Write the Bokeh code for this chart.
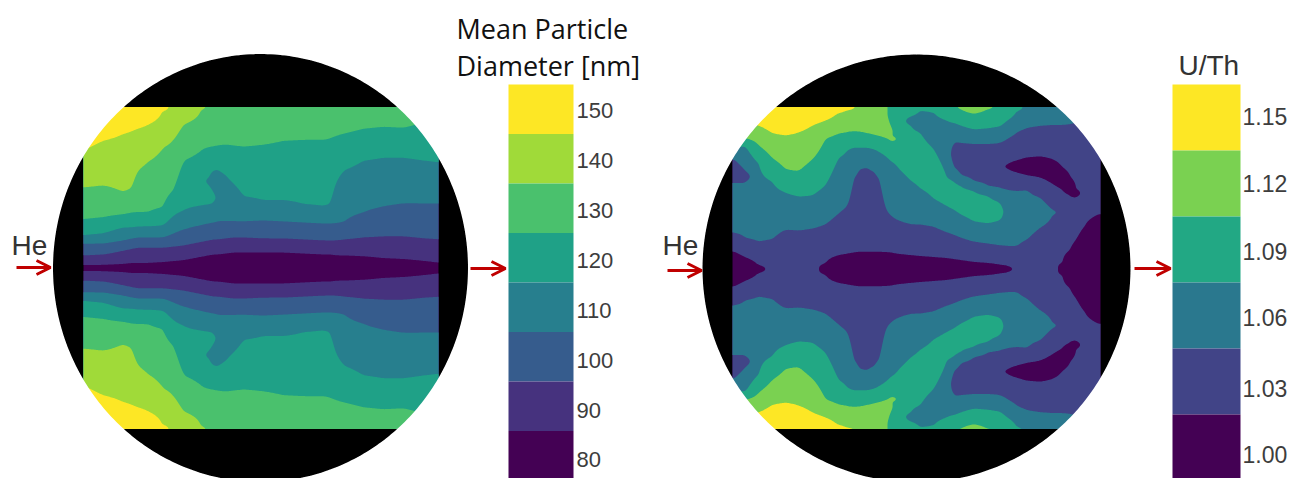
import numpy as np
from bokeh.plotting import figure
from bokeh.models import Range1d, Arrow, OpenHead
from bokeh.core.properties import value
from bokeh.embed import file_html
from bokeh.resources import INLINE

# ---- band values and colours ----
left_values = [150, 140, 130, 120, 110, 100, 90, 80]
left_colors = ["#fde725", "#a0da39", "#4ac16d", "#1fa187", "#277f8e", "#365c8d", "#46327e", "#440154"]
right_values = [1.15, 1.12, 1.09, 1.06, 1.03, 1.00]
right_labels = ["1.15", "1.12", "1.09", "1.06", "1.03", "1.00"]
right_colors = ["#fde725", "#7ad151", "#22a884", "#2a788e", "#414487", "#440154"]
left_label_y = [110, 160, 210, 260, 310, 360, 410, 459]
right_label_y = [116, 183, 251, 317, 388, 454]

# ---- left field: for each column, (band value, y where the band ends), top half, mirrored ----
left_columns = {
    83: [(150, 150), (140, 187), (130, 219), (120, 235), (110, 243), (100, 255), (90, 265), (80, 268)],
    103: [(150, 140), (140, 185), (130, 217), (120, 233), (110, 243), (100, 254), (90, 265), (80, 268)],
    123: [(150, 133), (140, 192), (130, 214), (120, 227), (110, 240), (100, 250), (90, 264), (80, 268)],
    132: [(150, 130), (140, 188), (130, 212), (120, 227), (110, 238), (100, 248), (90, 263), (80, 268)],
    137: [(150, 128), (140, 170), (130, 212), (120, 226), (110, 237), (100, 247), (90, 263), (80, 268)],
    148: [(150, 124), (140, 161), (130, 212), (120, 226), (110, 237), (100, 247), (90, 263), (80, 268)],
    163: [(150, 110), (140, 147), (130, 207), (120, 225), (110, 237), (100, 247), (90, 262), (80, 268)],
    173: [(140, 140), (130, 190), (120, 215), (110, 233), (100, 246), (90, 261), (80, 268)],
    183: [(140, 124), (130, 160), (120, 210), (110, 229), (100, 245), (90, 260), (80, 268)],
    203: [(140, 108), (130, 148), (120, 205), (110, 224), (100, 241), (90, 256), (80, 268)],
    208: [(130, 147), (120, 177), (110, 184), (120, 204), (110, 223), (100, 240), (90, 255), (80, 268)],
    213: [(130, 146), (120, 169), (110, 192), (120, 203), (110, 222), (100, 239), (90, 254), (80, 268)],
    218: [(130, 145), (120, 169), (110, 221), (100, 239), (90, 254), (80, 268)],
    225: [(130, 144), (120, 174), (110, 221), (100, 238), (90, 253), (80, 268)],
    233: [(130, 145), (120, 183), (110, 221), (100, 237), (90, 252), (80, 268)],
    243: [(130, 146), (120, 196), (110, 221), (100, 237), (90, 252), (80, 268)],
    263: [(130, 144), (120, 200), (110, 220), (100, 238), (90, 252), (80, 268)],
    283: [(130, 140), (120, 200), (110, 221), (100, 238), (90, 252), (80, 268)],
    303: [(130, 139), (120, 204), (110, 222), (100, 239), (90, 253), (80, 268)],
    323: [(130, 139), (120, 206), (110, 223), (100, 240), (90, 254), (80, 268)],
    331: [(130, 137), (120, 204), (110, 223), (100, 240), (90, 254), (80, 268)],
    336: [(130, 135), (120, 180), (110, 223), (100, 240), (90, 255), (80, 268)],
    343: [(130, 133), (120, 170), (110, 222), (100, 239), (90, 255), (80, 268)],
    363: [(130, 128), (120, 160), (110, 212), (100, 237), (90, 256), (80, 268)],
    383: [(130, 126), (120, 157), (110, 206), (100, 236), (90, 258), (80, 268)],
    403: [(130, 127), (120, 157), (110, 203), (100, 236), (90, 259), (80, 268)],
    423: [(130, 120), (120, 160), (110, 203), (100, 238), (90, 261), (80, 268)],
    438: [(130, 112), (120, 162), (110, 203), (100, 239), (90, 263), (80, 268)],
}

# ---- right field: same reading, (band value, y where the band ends) ----
right_columns = {
    732: [(1.15, 117), (1.12, 133), (1.09, 147), (1.06, 157), (1.03, 182), (1.06, 232), (1.03, 250), (1.00, 269)],
    745: [(1.15, 122), (1.12, 138), (1.09, 145), (1.06, 170), (1.03, 182), (1.06, 238), (1.03, 257), (1.00, 269)],
    758: [(1.15, 125), (1.12, 145), (1.09, 163), (1.06, 242), (1.03, 265), (1.00, 269)],
    772: [(1.15, 133), (1.12, 158), (1.09, 181), (1.06, 239), (1.03, 269)],
    785: [(1.15, 135), (1.12, 169), (1.09, 192), (1.06, 229), (1.03, 269)],
    798: [(1.15, 132), (1.12, 171), (1.09, 196), (1.06, 230), (1.03, 269)],
    812: [(1.15, 125), (1.12, 159), (1.09, 195), (1.06, 228), (1.03, 269)],
    825: [(1.15, 120), (1.12, 138), (1.09, 185), (1.06, 224), (1.03, 263), (1.00, 269)],
    838: [(1.15, 112), (1.12, 133), (1.09, 157), (1.06, 213), (1.03, 255), (1.00, 269)],
    846: [(1.15, 109), (1.12, 132), (1.09, 150), (1.06, 207), (1.03, 254), (1.00, 269)],
    849: [(1.15, 108), (1.12, 131), (1.09, 148), (1.06, 203), (1.03, 253), (1.00, 269)],
    852: [(1.15, 108), (1.12, 131), (1.09, 147), (1.06, 178), (1.03, 253), (1.00, 269)],
    858: [(1.12, 131), (1.09, 147), (1.06, 168), (1.03, 252), (1.00, 269)],
    867: [(1.12, 133), (1.09, 147), (1.06, 166), (1.03, 252), (1.00, 269)],
    875: [(1.12, 135), (1.09, 149), (1.06, 171), (1.03, 252), (1.00, 269)],
    880: [(1.12, 136), (1.09, 152), (1.06, 178), (1.03, 252), (1.00, 269)],
    885: [(1.12, 138), (1.09, 155), (1.06, 210), (1.03, 252), (1.00, 269)],
    889: [(1.09, 122), (1.12, 138), (1.09, 158), (1.06, 214), (1.03, 252), (1.00, 269)],
    893: [(1.09, 136), (1.12, 141), (1.09, 162), (1.06, 218), (1.03, 253), (1.00, 269)],
    900: [(1.09, 170), (1.06, 221), (1.03, 254), (1.00, 269)],
    910: [(1.09, 116), (1.06, 125), (1.09, 180), (1.06, 224), (1.03, 255), (1.00, 269)],
    920: [(1.09, 109), (1.06, 132), (1.09, 188), (1.06, 224), (1.03, 256), (1.00, 269)],
    933: [(1.09, 111), (1.06, 148), (1.09, 198), (1.06, 226), (1.03, 257), (1.00, 269)],
    947: [(1.09, 120), (1.06, 177), (1.09, 206), (1.06, 232), (1.03, 258), (1.00, 269)],
    953: [(1.09, 122), (1.06, 141), (1.03, 167), (1.06, 180), (1.09, 209), (1.06, 234), (1.03, 259), (1.00, 269)],
    960: [(1.12, 108), (1.09, 125), (1.06, 142), (1.03, 175), (1.06, 185), (1.09, 214), (1.06, 237), (1.03, 260), (1.00, 269)],
    973: [(1.12, 113), (1.09, 129), (1.06, 143), (1.03, 181), (1.06, 190), (1.09, 221), (1.06, 241), (1.03, 262), (1.00, 269)],
    987: [(1.12, 108), (1.09, 128), (1.06, 143), (1.03, 186), (1.06, 195), (1.09, 223), (1.06, 243), (1.03, 263), (1.00, 269)],
    1000: [(1.09, 126), (1.06, 142), (1.03, 188), (1.06, 202), (1.09, 220), (1.06, 245), (1.03, 265), (1.00, 269)],
    1007: [(1.09, 120), (1.06, 138), (1.03, 164), (1.00, 168), (1.03, 189), (1.06, 246), (1.03, 266), (1.00, 269)],
    1017: [(1.09, 110), (1.06, 131), (1.03, 160), (1.00, 172), (1.03, 190), (1.06, 246), (1.03, 269)],
    1027: [(1.06, 127), (1.03, 157), (1.00, 175), (1.03, 189), (1.06, 239), (1.03, 269)],
    1040: [(1.06, 125), (1.03, 156), (1.00, 177), (1.03, 197), (1.06, 227), (1.03, 269)],
    1053: [(1.06, 124), (1.03, 159), (1.00, 184), (1.03, 210), (1.06, 214), (1.03, 269)],
    1062: [(1.06, 124), (1.03, 167), (1.00, 189), (1.03, 262), (1.00, 269)],
    1070: [(1.06, 123), (1.03, 177), (1.00, 194), (1.03, 250), (1.00, 269)],
    1075: [(1.06, 121), (1.03, 188), (1.00, 197), (1.03, 240), (1.00, 269)],
    1083: [(1.06, 117), (1.03, 226), (1.00, 269)],
    1100: [(1.06, 113), (1.03, 213), (1.00, 269)],
}

TOP, BOTTOM = 106.5, 428.5
MID_L, MID_R = 267.5, 268.5


def field(columns, mid, x0, x1):
    """Band runs of each column -> value along y, then the mirrored lower half."""
    xs = np.array(sorted(columns), dtype=float)
    half_y = np.arange(TOP, mid + 0.01, 1.0)
    rows = []
    for x in sorted(columns):
        runs = columns[x]
        ya, za = [TOP], [runs[0][0]]
        start = TOP
        for i, (v, end) in enumerate(runs):
            ya.append((start + end) / 2)
            za.append(v)
            if i + 1 < len(runs):
                ya.append(end)
                za.append((v + runs[i + 1][0]) / 2)
            start = end
        ya.append(mid + 5)
        za.append(runs[-1][0])
        rows.append(np.interp(half_y, ya, za))
    half = np.array(rows).T
    fine_x = np.arange(x0, x1 + 0.01, 1.0)
    fine = np.array([np.interp(fine_x, xs, r) for r in half])
    full = np.vstack([fine, fine[-2::-1]])
    full_y = np.concatenate([half_y, 2 * mid - half_y[-2::-1]])

    def blur(a, axis, s):
        n = int(3 * s)
        k = np.exp(-0.5 * (np.arange(-n, n + 1) / s) ** 2)
        k /= k.sum()
        pad = [(n, n) if i == axis else (0, 0) for i in range(2)]
        b = np.pad(a, pad, mode="reflect")
        return np.apply_along_axis(lambda m: np.convolve(m, k, mode="valid"), axis, b)
    full = blur(blur(full, 1, 2.5), 0, 1.2)
    keep = full_y <= BOTTOM
    return fine_x, full_y[keep], full[keep]


p = figure(width=1290, height=478, x_range=Range1d(0, 1290), y_range=Range1d(478, 0),
           x_axis_type=None, y_axis_type=None, toolbar_location=None, output_backend="svg",
           min_border=0, outline_line_color=None, background_fill_color="white",
           border_fill_color="white")
p.grid.visible = False


def disk_polygon(cx, cy, a, b):
    t = np.linspace(0, 2 * np.pi, 361)
    return list(cx + a * np.cos(t)), list(cy + b * np.sin(t))


def panel(cols, mid, x0, x1, vals, colors, cx, cy, a, b):
    ex, ey = disk_polygon(cx, cy, a, b)
    p.patch(ex, ey, fill_color="black", line_color="black", line_width=1)
    x, y, z = field(cols, mid, x0, x1)
    asc = sorted(vals)
    step = asc[1] - asc[0]
    levels = [asc[0] - step / 2] + [v + step / 2 for v in asc]
    levels[0] = min(levels[0], float(z.min()) - 1e-6)
    levels[-1] = max(levels[-1], float(z.max()) + 1e-6)
    cols_up = list(reversed(colors))
    # each band is painted over the one below it, so no seams show between bands
    for i, c in enumerate(cols_up):
        p.contour(x, y, z, [levels[i], levels[-1]], fill_color=[c])
    ox = [cx - a - 5, cx + a + 5, cx + a + 5, cx - a - 5]
    oy = [cy - b - 5, cy - b - 5, cy + b + 5, cy + b + 5]
    p.multi_polygons([[[ox, ex]]], [[[oy, ey]]], fill_color="white", line_color=None)


panel(left_columns, MID_L, 83, 438, left_values, left_colors, 260, 267.5, 207.5, 214)
panel(right_columns, MID_R, 732, 1100, right_values, right_colors, 916, 268, 214, 214)


def bar(x0, x1, colors):
    h = (480 - 84) / len(colors)
    tops = [84 + i * h for i in range(len(colors))]
    p.quad(left=x0, right=x1, top=tops, bottom=[t + h for t in tops], fill_color=colors,
           line_color=None)


bar(508, 573, left_colors)
bar(1172, 1240, right_colors)


def label(x, y, texts, font, size, color="#3d3d3d", align="left"):
    p.text(x=x, y=y, text=texts, text_font=value(font), text_font_size=size,
           text_color=color, text_baseline="middle", text_align=align)


label([576] * 8, left_label_y, [str(v) for v in left_values], "Liberation Sans", "22px")
label([1242] * 6, right_label_y, right_labels, "Liberation Sans", "23px")
label([456, 456], [28, 65], ["Mean Particle", "Diameter [nm]"], "Open Sans", "27px", "#111111")
label([1178], [65], ["U/Th"], "Liberation Sans", "28px", "#333333")
label([11, 662], [245, 245], ["He", "He"], "Liberation Sans", "28px", "#333333")

for xs, xe, yy in [(16, 50, 267), (470, 505, 268), (667, 701, 270), (1134, 1170, 268)]:
    p.add_layout(Arrow(end=OpenHead(line_color="#c00000", line_width=3, size=14),
                       x_start=xs, x_end=xe, y_start=yy, y_end=yy,
                       line_color="#c00000", line_width=3))

open("out.html", "w").write(file_html(p, INLINE))
